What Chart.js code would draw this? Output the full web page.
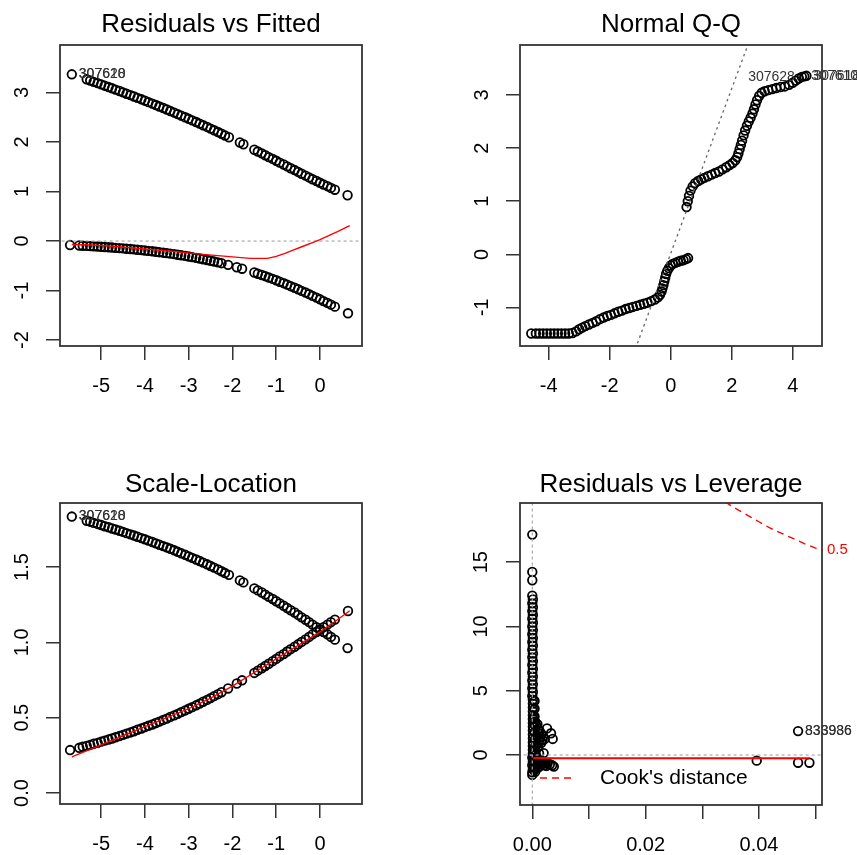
<!DOCTYPE html>
<html lang="en">
<head>
<meta charset="UTF-8">
<title>glm diagnostics</title>
<style>
  html, body { margin: 0; padding: 0; background: #fff; }
  #wrap { position: relative; width: 857px; height: 855px; }
  canvas { position: absolute; }
</style>
</head>
<body>
<div id="wrap">
  <canvas id="c1" width="428" height="428" style="left:0;top:0"></canvas>
  <canvas id="c2" width="429" height="428" style="left:428px;top:0"></canvas>
  <canvas id="c3" width="428" height="427" style="left:0;top:428px"></canvas>
  <canvas id="c4" width="429" height="427" style="left:428px;top:428px"></canvas>
</div>
<script src="https://cdn.jsdelivr.net/npm/chart.js"></script>
<script>
const FONT = '"Liberation Sans", Arial, Helvetica, sans-serif';

// fitted values (linear predictor) - shared by Residuals vs Fitted and Scale-Location
const fitUp = [-5.67, -5.33, -5.25, -5.17, -5.08, -5.00, -4.92, -4.83, -4.75, -4.67, -4.58, -4.50, -4.42, -4.33, -4.25, -4.17, -4.08, -4.00, -3.92, -3.83, -3.75, -3.67, -3.58, -3.50, -3.42, -3.33, -3.25, -3.17, -3.08, -3.00, -2.92, -2.83, -2.75, -2.67, -2.58, -2.50, -2.42, -2.33, -2.25, -2.17, -2.08, -1.83, -1.75, -1.50, -1.42, -1.33, -1.25, -1.17, -1.08, -1.00, -0.92, -0.83, -0.75, -0.67, -0.58, -0.50, -0.42, -0.33, -0.25, -0.17, -0.08, 0.00, 0.08, 0.17, 0.25, 0.34, 0.63];
const residUp = [3.368, 3.267, 3.242, 3.216, 3.190, 3.164, 3.138, 3.111, 3.085, 3.058, 3.031, 3.004, 2.976, 2.948, 2.920, 2.892, 2.863, 2.835, 2.806, 2.776, 2.747, 2.717, 2.687, 2.657, 2.626, 2.595, 2.564, 2.532, 2.501, 2.469, 2.437, 2.404, 2.372, 2.338, 2.305, 2.271, 2.237, 2.202, 2.168, 2.133, 2.097, 1.991, 1.955, 1.845, 1.808, 1.771, 1.734, 1.696, 1.659, 1.621, 1.584, 1.546, 1.509, 1.471, 1.434, 1.396, 1.359, 1.322, 1.285, 1.249, 1.213, 1.177, 1.142, 1.108, 1.073, 1.037, 0.925];
const sqrtUp = [1.835, 1.807, 1.801, 1.793, 1.786, 1.779, 1.771, 1.764, 1.756, 1.749, 1.741, 1.733, 1.725, 1.717, 1.709, 1.701, 1.692, 1.684, 1.675, 1.666, 1.657, 1.648, 1.639, 1.630, 1.621, 1.611, 1.601, 1.591, 1.581, 1.571, 1.561, 1.550, 1.540, 1.529, 1.518, 1.507, 1.496, 1.484, 1.472, 1.460, 1.448, 1.411, 1.398, 1.358, 1.345, 1.331, 1.317, 1.302, 1.288, 1.273, 1.259, 1.243, 1.228, 1.213, 1.198, 1.182, 1.166, 1.150, 1.134, 1.118, 1.101, 1.085, 1.069, 1.053, 1.036, 1.018, 0.962];

const fitLo = [-5.71, -5.50, -5.42, -5.33, -5.25, -5.17, -5.08, -5.00, -4.92, -4.83, -4.75, -4.67, -4.58, -4.50, -4.42, -4.33, -4.25, -4.17, -4.08, -4.00, -3.92, -3.83, -3.75, -3.67, -3.58, -3.50, -3.42, -3.33, -3.25, -3.17, -3.08, -3.00, -2.92, -2.83, -2.75, -2.67, -2.58, -2.50, -2.42, -2.33, -2.25, -2.10, -1.90, -1.78, -1.50, -1.42, -1.33, -1.25, -1.17, -1.08, -1.00, -0.92, -0.83, -0.75, -0.67, -0.58, -0.50, -0.42, -0.33, -0.25, -0.17, -0.08, 0.00, 0.08, 0.17, 0.25, 0.34, 0.64];
const residLo = [-0.081, -0.090, -0.094, -0.098, -0.102, -0.107, -0.111, -0.116, -0.121, -0.126, -0.131, -0.137, -0.143, -0.149, -0.155, -0.162, -0.168, -0.176, -0.183, -0.191, -0.199, -0.207, -0.216, -0.225, -0.235, -0.244, -0.255, -0.265, -0.276, -0.288, -0.300, -0.312, -0.325, -0.339, -0.352, -0.367, -0.382, -0.397, -0.414, -0.430, -0.447, -0.481, -0.529, -0.559, -0.635, -0.660, -0.685, -0.710, -0.737, -0.765, -0.792, -0.822, -0.851, -0.881, -0.912, -0.943, -0.974, -1.007, -1.040, -1.073, -1.108, -1.142, -1.177, -1.213, -1.249, -1.285, -1.325, -1.459];
const sqrtLo = [0.285, 0.300, 0.307, 0.313, 0.319, 0.327, 0.333, 0.341, 0.348, 0.355, 0.362, 0.370, 0.378, 0.386, 0.394, 0.402, 0.410, 0.420, 0.428, 0.437, 0.446, 0.455, 0.465, 0.474, 0.485, 0.494, 0.505, 0.515, 0.525, 0.537, 0.548, 0.559, 0.570, 0.582, 0.593, 0.606, 0.618, 0.630, 0.643, 0.656, 0.669, 0.694, 0.727, 0.748, 0.797, 0.812, 0.828, 0.843, 0.858, 0.875, 0.890, 0.907, 0.922, 0.939, 0.955, 0.971, 0.987, 1.003, 1.020, 1.036, 1.053, 1.069, 1.085, 1.101, 1.118, 1.134, 1.151, 1.208];

// red smoothers
const smoothFitX = [-5.67, -5.2, -4.8, -4.4, -4.0, -3.6, -3.2, -2.8, -2.4, -2.0, -1.6, -1.2, -1.0, -0.8, -0.6, -0.4, -0.2, 0.0, 0.2, 0.4, 0.68];
const smoothFitY = [-0.07, -0.08, -0.10, -0.13, -0.16, -0.19, -0.22, -0.26, -0.29, -0.32, -0.35, -0.35, -0.31, -0.25, -0.18, -0.11, -0.04, 0.03, 0.11, 0.19, 0.31];
const smoothSlX = [-5.67, -5.0, -4.5, -4.0, -3.5, -3.0, -2.5, -2.0, -1.5, -1.0, -0.5, 0.0, 0.35, 0.68];
const smoothSlY = [0.24, 0.32, 0.38, 0.44, 0.50, 0.56, 0.63, 0.71, 0.80, 0.89, 0.98, 1.07, 1.14, 1.21];

// Normal Q-Q
const qqTheo = [-4.57, -4.42, -4.30, -4.18, -4.06, -3.94, -3.82, -3.70, -3.58, -3.46, -3.34, -3.22, -3.10, -3.00, -2.90, -2.80, -2.68, -2.56, -2.44, -2.32, -2.20, -2.08, -1.96, -1.84, -1.72, -1.60, -1.48, -1.36, -1.24, -1.12, -1.00, -0.88, -0.76, -0.64, -0.52, -0.42, -0.35, -0.30, -0.27, -0.24, -0.21, -0.18, -0.15, -0.11, -0.06, 0.00, 0.07, 0.15, 0.24, 0.33, 0.42, 0.50, 0.57,
  0.52, 0.56, 0.60, 0.65, 0.72, 0.80, 0.90, 1.00, 1.10, 1.22, 1.34, 1.46, 1.58, 1.70, 1.82, 1.93, 2.03, 2.12, 2.18, 2.22, 2.26, 2.30, 2.34, 2.39, 2.44, 2.50, 2.56, 2.62, 2.68, 2.73, 2.78, 2.83, 2.90, 2.98, 3.08, 3.20, 3.33, 3.46, 3.60, 3.74, 3.88, 4.00, 4.10, 4.20, 4.30, 4.38, 4.45];
const qqSample = [-1.49, -1.49, -1.49, -1.49, -1.49, -1.49, -1.49, -1.49, -1.49, -1.49, -1.49, -1.48, -1.45, -1.41, -1.38, -1.35, -1.32, -1.29, -1.26, -1.22, -1.19, -1.16, -1.14, -1.11, -1.08, -1.06, -1.03, -1.01, -0.99, -0.97, -0.95, -0.93, -0.91, -0.88, -0.85, -0.81, -0.76, -0.70, -0.64, -0.58, -0.51, -0.44, -0.37, -0.31, -0.26, -0.21, -0.18, -0.16, -0.14, -0.12, -0.11, -0.09, -0.07,
  0.89, 1.00, 1.10, 1.20, 1.28, 1.34, 1.38, 1.41, 1.44, 1.47, 1.50, 1.53, 1.56, 1.60, 1.64, 1.68, 1.72, 1.77, 1.83, 1.90, 1.98, 2.06, 2.14, 2.24, 2.33, 2.42, 2.50, 2.57, 2.65, 2.73, 2.82, 2.90, 2.98, 3.04, 3.07, 3.09, 3.11, 3.13, 3.15, 3.16, 3.19, 3.23, 3.27, 3.31, 3.34, 3.35, 3.36];
const qqLineX = [-1.5, 3.0];
const qqLineY = [-2.31, 4.67];

// Residuals vs Leverage
const lev = [0.0000, 0.0000, 0.0000,
  0.0000, 0.0001, 0.0000, 0.0001, 0.0000, 0.0001, 0.0000, 0.0001, 0.0000, 0.0001, 0.0000, 0.0001, 0.0000, 0.0001, 0.0000, 0.0001, 0.0000, 0.0001, 0.0000, 0.0001, 0.0000, 0.0001, 0.0000, 0.0001, 0.0000, 0.0001, 0.0000, 0.0001,
  0.0001, 0.0001, 0.0001, 0.0001, 0.0001, 0.0001, 0.0001, 0.0001, 0.0001, 0.0001, 0.0001, 0.0001, 0.0001, 0.0001,
  0.0004, 0.0004, 0.0004, 0.0004, 0.0004, 0.0004, 0.0004,
  0.0007, 0.0010, 0.0013, 0.0016, 0.0019, 0.0022, 0.0008, 0.0012, 0.0016, 0.0007, 0.0026, 0.0033, 0.0036,
  0.0005, 0.0009, 0.0011, 0.0014, 0.0018, 0.0005, 0.0010, 0.0004,
  0.0000, 0.0001, 0.0000, 0.0001, 0.0000, 0.0000, 0.0003, 0.0003,
  0.0006, 0.0012, 0.0020, 0.0007, 0.0011, 0.0015, 0.0019, 0.0023, 0.0027, 0.0031, 0.0035, 0.0038, 0.0009, 0.0014, 0.0006,
  0.0004, 0.0008, 0.0013, 0.0017, 0.0021, 0.0025, 0.0010, 0.0005, 0.0003,
  0.0396, 0.0469, 0.0489, 0.0469];
const stdRes = [17.15, 14.25, 13.60,
  12.40, 12.10, 11.80, 11.50, 11.20, 10.90, 10.60, 10.30, 10.00, 9.70, 9.40, 9.10, 8.80, 8.50, 8.20, 7.90, 7.60, 7.30, 7.00, 6.70, 6.40, 6.10, 5.80, 5.50, 5.20, 4.90, 4.60, 4.30,
  4.00, 3.70, 3.40, 3.10, 2.80, 2.50, 2.20, 1.90, 1.60, 1.30, 1.00, 0.70, 0.40, 0.10,
  4.20, 3.60, 3.00, 2.40, 1.80, 1.20, 0.60,
  2.30, 2.05, 1.85, 1.65, 1.45, 1.25, 1.50, 1.15, 0.95, 0.80, 2.07, 1.69, 1.25,
  2.60, 2.40, 1.70, 1.40, 1.15, 1.20, 0.60, 0.30,
  -0.20, -0.50, -0.80, -1.10, -1.35, -1.55, -0.35, -0.95,
  0.05, 0.12, 0.15, -0.25, -0.35, -0.45, -0.52, -0.60, -0.66, -0.72, -0.80, -0.90, -0.70, -0.85, -1.05,
  -0.45, -0.40, -0.60, -0.70, -0.80, -0.85, -1.00, -1.30, -1.20,
  -0.44, -0.60, -0.60, 1.86];
const levSmoothX = [0.0002, 0.0050, 0.0200, 0.0400, 0.0489];
const levSmoothY = [-0.24, -0.26, -0.26, -0.26, -0.26];
const cookLev = [0.034, 0.036, 0.038, 0.040, 0.042, 0.044, 0.046, 0.048, 0.050, 0.052];
const cookRes = [19.70, 19.15, 18.65, 18.15, 17.65, 17.25, 16.85, 16.45, 16.10, 15.80];

// tick values
const xTicksFit = [-5, -4, -3, -2, -1, 0];
const yTicksFit = [-2, -1, 0, 1, 2, 3];
const xTicksQQ = [-4, -2, 0, 2, 4];
const yTicksQQ = [-1, 0, 1, 2, 3];
const yTicksSL = [0, 0.5, 1, 1.5];
const xTicksLev = [0, 0.01, 0.02, 0.03, 0.04, 0.05];
const yTicksLev = [0, 5, 10, 15];

const pts = (xs, ys) => xs.map((x, i) => ({ x: x, y: ys[i] }));

function circles(xs, ys) {
  return { data: pts(xs, ys), showLine: false, pointStyle: 'circle', pointRadius: 4.3,
    pointBorderWidth: 1.8, pointBorderColor: '#000', pointBackgroundColor: 'rgba(0,0,0,0)', order: 2 };
}
function curve(xs, ys, color, width, dash) {
  return { data: pts(xs, ys), showLine: true, borderColor: color, borderWidth: width,
    borderDash: dash || [], pointRadius: 0, fill: false, tension: 0, order: 1 };
}

// box round the plot region
const framePlugin = {
  id: 'frame',
  afterDraw(chart) {
    const a = chart.chartArea, ctx = chart.ctx;
    ctx.save();
    ctx.strokeStyle = '#333';
    ctx.lineWidth = 1.8;
    ctx.strokeRect(a.left, a.top, a.right - a.left, a.bottom - a.top);
    ctx.restore();
  }
};

// id labels next to the extreme points
const labelPlugin = {
  id: 'ptlabels',
  afterDraw(chart, args, opts) {
    const ctx = chart.ctx, xs = chart.scales.x, ys = chart.scales.y;
    ctx.save();
    ctx.font = '14px ' + FONT;
    ctx.fillStyle = '#333';
    ctx.textBaseline = 'middle';
    (opts.items || []).forEach(it => {
      const px = xs.getPixelForValue(it.x), py = ys.getPixelForValue(it.y);
      ctx.textAlign = it.side === 'left' ? 'right' : 'left';
      ctx.fillText(it.text, px + (it.side === 'left' ? -7 : 7), py);
    });
    ctx.restore();
  }
};

// contour label and legend for Cook's distance
const cookPlugin = {
  id: 'cook',
  afterDraw(chart, args, opts) {
    const ctx = chart.ctx, a = chart.chartArea, ys = chart.scales.y;
    ctx.save();
    ctx.fillStyle = 'red';
    ctx.font = '15px ' + FONT;
    ctx.textBaseline = 'middle';
    ctx.textAlign = 'left';
    ctx.fillText(opts.level, a.right + 5, ys.getPixelForValue(opts.levelAt));
    const ly = a.bottom - 27;
    ctx.strokeStyle = 'red';
    ctx.lineWidth = 1.5;
    ctx.setLineDash([7, 5]);
    ctx.beginPath();
    ctx.moveTo(a.left + 20, ly);
    ctx.lineTo(a.left + 56, ly);
    ctx.stroke();
    ctx.setLineDash([]);
    ctx.fillStyle = '#000';
    ctx.font = '21px ' + FONT;
    ctx.fillText(opts.legend, a.left + 80, ly);
    ctx.restore();
  }
};

function axis(vertical, a, size) {
  return {
    type: 'linear', position: vertical ? 'left' : 'bottom', min: a.min, max: a.max,
    afterBuildTicks: s => { s.ticks = a.ticks.map(v => ({ value: v })); },
    afterFit: s => { if (vertical) s.width = size; else s.height = size; },
    grid: { drawOnChartArea: false, drawTicks: true, tickLength: 14, color: '#333', lineWidth: 1.5 },
    border: { display: false },
    ticks: {
      autoSkip: false, color: '#000', font: { family: FONT, size: 20 }, padding: a.pad,
      minRotation: vertical ? 90 : 0, maxRotation: vertical ? 90 : 0,
      crossAlign: vertical ? 'center' : 'near', callback: a.fmt
    }
  };
}

function makeChart(id, c) {
  return new Chart(document.getElementById(id), {
    type: 'scatter',
    data: { datasets: c.datasets },
    options: {
      responsive: false, animation: false, events: [],
      layout: { padding: { left: 0, top: 0, right: c.padRight, bottom: 0 } },
      plugins: {
        legend: { display: false },
        tooltip: { enabled: false },
        title: {
          display: true, text: c.title, fullSize: false, color: '#000',
          font: { family: FONT, size: 26, weight: 'normal', lineHeight: 1.2 },
          padding: { top: c.titleTop, bottom: c.titleH - 31.2 - c.titleTop }
        },
        ptlabels: { items: c.labels || [] },
        cook: c.cook || {}
      },
      scales: { x: axis(false, c.x, c.xAxisH), y: axis(true, c.y, c.yAxisW) }
    },
    plugins: [framePlugin, labelPlugin].concat(c.extra || [])
  });
}

const num = v => String(v);

makeChart('c1', {
  title: 'Residuals vs Fitted', titleTop: 9, titleH: 45, padRight: 66, xAxisH: 82, yAxisW: 60,
  x: { min: -5.94, max: 0.96, ticks: xTicksFit, pad: 14, fmt: num },
  y: { min: -2.12, max: 3.96, ticks: yTicksFit, pad: 15, fmt: num },
  datasets: [
    curve(smoothFitX, smoothFitY, 'red', 1.4),
    curve([-7, 2], [0, 0], '#aaa', 1.2, [3, 3]),
    circles(fitUp, residUp),
    circles(fitLo, residLo)
  ],
  labels: [
    { x: -5.67, y: 3.368, text: '307610', side: 'right' },
    { x: -5.67, y: 3.368, text: '307628', side: 'right' }
  ]
});

makeChart('c2', {
  title: 'Normal Q-Q', titleTop: 9, titleH: 45, padRight: 35, xAxisH: 82, yAxisW: 92,
  x: { min: -4.94, max: 4.96, ticks: xTicksQQ, pad: 14, fmt: num },
  y: { min: -1.725, max: 3.94, ticks: yTicksQQ, pad: 15, fmt: num },
  datasets: [
    curve(qqLineX, qqLineY, '#666', 1.3, [2.5, 3.5]),
    circles(qqTheo, qqSample)
  ],
  labels: [
    { x: 4.30, y: 3.34, text: '307628', side: 'left' },
    { x: 4.38, y: 3.35, text: '307610', side: 'right' },
    { x: 4.45, y: 3.36, text: '307618', side: 'right' }
  ]
});

makeChart('c3', {
  title: 'Scale-Location', titleTop: 41, titleH: 75, padRight: 66, xAxisH: 51, yAxisW: 60,
  x: { min: -5.94, max: 0.96, ticks: xTicksFit, pad: 14, fmt: num },
  y: { min: -0.073, max: 1.925, ticks: yTicksSL, pad: 10, fmt: v => v.toFixed(1) },
  datasets: [
    curve(smoothSlX, smoothSlY, 'red', 1.4),
    circles(fitUp, sqrtUp),
    circles(fitLo, sqrtLo)
  ],
  labels: [
    { x: -5.67, y: 1.835, text: '307610', side: 'right' },
    { x: -5.67, y: 1.835, text: '307628', side: 'right' }
  ]
});

makeChart('c4', {
  title: 'Residuals vs Leverage', titleTop: 41, titleH: 75, padRight: 35, xAxisH: 50, yAxisW: 92,
  x: { min: -0.00217, max: 0.05112, ticks: xTicksLev, pad: 14, fmt: (v, i) => (i % 2 === 0 ? v.toFixed(2) : '') },
  y: { min: -3.89, max: 19.61, ticks: yTicksLev, pad: 13, fmt: num },
  datasets: [
    curve(levSmoothX, levSmoothY, 'red', 2),
    curve(cookLev, cookRes, 'red', 1.4, [7, 5]),
    curve([-0.01, 0.06], [0, 0], '#aaa', 1.2, [3, 3]),
    curve([0, 0], [-10, 30], '#aaa', 1.2, [3, 3]),
    circles(lev, stdRes)
  ],
  labels: [
    { x: 0.0469, y: 1.86, text: '833936', side: 'right' },
    { x: 0.0469, y: 1.86, text: '833986', side: 'right' }
  ],
  cook: { level: '0.5', levelAt: 15.93, legend: "Cook's distance" },
  extra: [cookPlugin]
});
</script>
</body>
</html>
